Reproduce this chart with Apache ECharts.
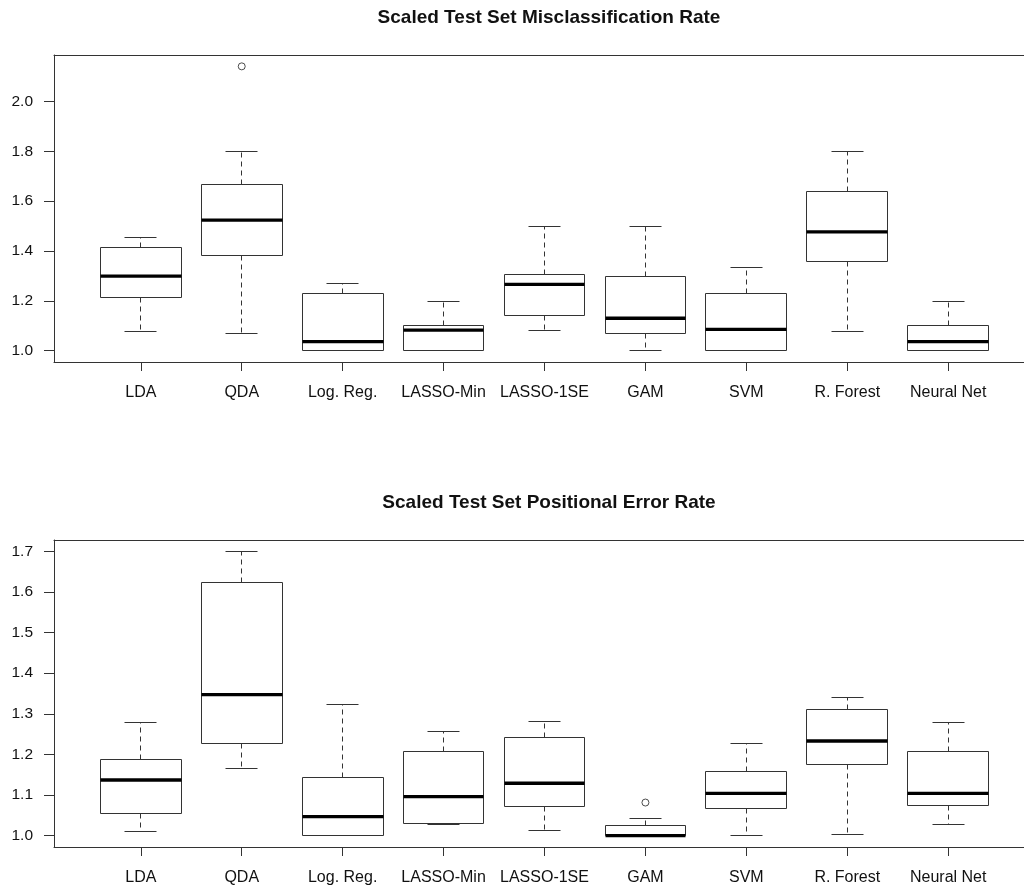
<!DOCTYPE html>
<html>
<head>
<meta charset="utf-8">
<title>Scaled Test Set Error Rates</title>
<script src="https://cdn.jsdelivr.net/npm/echarts@6/dist/echarts.min.js"></script>
<style>
  html, body { margin: 0; padding: 0; background: #fff; }
  #chart { width: 1024px; height: 888px; }
</style>
</head>
<body>
<div id="chart"></div>
<script>
// Classifier names along the x axis
const methods = ['LDA', 'QDA', 'Log. Reg.', 'LASSO-Min', 'LASSO-1SE', 'GAM', 'SVM', 'R. Forest', 'Neural Net'];

// Misclassification rate: five-number summaries per method
const misLow    = [1.077, 1.069, 1.000, 1.000, 1.081, 1.000, 1.000, 1.077, 1.000];
const misQ1     = [1.214, 1.383, 1.000, 1.000, 1.141, 1.067, 1.000, 1.356, 1.000];
const misMedian = [1.299, 1.524, 1.036, 1.082, 1.266, 1.130, 1.085, 1.477, 1.036];
const misQ3     = [1.415, 1.665, 1.229, 1.101, 1.306, 1.298, 1.230, 1.638, 1.101];
const misHigh   = [1.456, 1.800, 1.270, 1.197, 1.500, 1.500, 1.334, 1.800, 1.197];
const misOutliers = [[2, 2.141]];
const misTicks = [1.0, 1.2, 1.4, 1.6, 1.8, 2.0];

// Positional error rate: five-number summaries per method
const posLow    = [1.010, 1.166, 1.000, 1.027, 1.012, 1.000, 1.000, 1.003, 1.027];
const posQ1     = [1.054, 1.228, 1.000, 1.029, 1.072, 1.000, 1.067, 1.175, 1.073];
const posMedian = [1.137, 1.347, 1.047, 1.096, 1.129, 1.000, 1.104, 1.233, 1.104];
const posQ3     = [1.188, 1.624, 1.143, 1.208, 1.242, 1.024, 1.159, 1.311, 1.206];
const posHigh   = [1.278, 1.700, 1.322, 1.257, 1.282, 1.042, 1.228, 1.339, 1.278];
const posOutliers = [[6, 1.0815]];
const posTicks = [1.0, 1.1, 1.2, 1.3, 1.4, 1.5, 1.6, 1.7];

const INK = '#333333';
const TEXT = '#111111';
const FONT = '"Liberation Sans", Arial, Helvetica, sans-serif';

// Plot region: x runs from 0.14 (left frame); the frame continues past the right page edge
const X_MIN = 0.14;
const X_MAX = 9.751;
const GRID_LEFT = 54;
const GRID_WIDTH = 970;

function boxRows(lo, q1, md, q3, hi) {
  return methods.map((_, i) => [i + 1, lo[i], q1[i], md[i], q3[i], hi[i]]);
}

// Value range padded by 4% on each side, as in base R graphics
function paddedRange(arrays, outliers) {
  let all = [];
  arrays.forEach(a => { all = all.concat(a); });
  outliers.forEach(o => all.push(o[1]));
  const lo = Math.min.apply(null, all), hi = Math.max.apply(null, all);
  const pad = (hi - lo) * 0.04;
  return [lo - pad, hi + pad];
}

const crisp = v => Math.round(v - 0.5) + 0.5;

function renderBox(params, api) {
  const x = api.value(0);
  const lo = api.value(1), q1 = api.value(2), md = api.value(3), q3 = api.value(4), hi = api.value(5);
  const pt = (xx, yy) => api.coord([xx, yy]);
  const cx = crisp(pt(x, md)[0]);
  const boxL = crisp(pt(x - 0.4, md)[0]), boxR = crisp(pt(x + 0.4, md)[0]);
  const capL = crisp(pt(x - 0.16, md)[0]), capR = crisp(pt(x + 0.16, md)[0]);
  const yLo = crisp(pt(x, lo)[1]), yQ1 = crisp(pt(x, q1)[1]);
  const yMd = pt(x, md)[1], yQ3 = crisp(pt(x, q3)[1]), yHi = crisp(pt(x, hi)[1]);
  const dashed = { stroke: INK, lineWidth: 1, lineDash: [5, 4], fill: null };
  const solid = { stroke: INK, lineWidth: 1, fill: null };
  const kids = [];
  if (yHi < yQ3) kids.push({ type: 'line', shape: { x1: cx, y1: yQ3, x2: cx, y2: yHi }, style: dashed });
  if (yLo > yQ1) kids.push({ type: 'line', shape: { x1: cx, y1: yQ1, x2: cx, y2: yLo }, style: dashed });
  kids.push({ type: 'line', shape: { x1: capL, y1: yHi, x2: capR, y2: yHi }, style: solid });
  kids.push({ type: 'line', shape: { x1: capL, y1: yLo, x2: capR, y2: yLo }, style: solid });
  kids.push({ type: 'rect', shape: { x: boxL, y: yQ3, width: boxR - boxL, height: yQ1 - yQ3 },
              style: { fill: 'rgba(255,255,255,0)', stroke: INK, lineWidth: 1 } });
  kids.push({ type: 'line', shape: { x1: boxL, y1: yMd, x2: boxR, y2: yMd }, style: { stroke: '#000', lineWidth: 3.3 } });
  return { type: 'group', children: kids };
}

const misRange = paddedRange([misLow, misHigh], misOutliers);
const posRange = paddedRange([posLow, posHigh], posOutliers);

const xCenters = methods.map((_, i) => i + 1);
const frameLine = { show: true, onZero: false, lineStyle: { color: INK, width: 1 } };

function xAxisFor(gridIndex) {
  return {
    type: 'value', gridIndex: gridIndex, position: 'bottom', min: X_MIN, max: X_MAX,
    axisLine: frameLine,
    splitLine: { show: false },
    axisTick: { show: true, inside: false, length: 9, customValues: xCenters, lineStyle: { color: INK, width: 1 } },
    axisLabel: { show: true, margin: 23, customValues: xCenters, color: TEXT, fontSize: 16, fontFamily: FONT,
                 formatter: v => methods[Math.round(v) - 1] || '' }
  };
}

// Top edge of the frame
function xFrameTop(gridIndex) {
  return {
    type: 'value', gridIndex: gridIndex, position: 'top', min: X_MIN, max: X_MAX,
    axisLine: frameLine, axisTick: { show: false }, axisLabel: { show: false }, splitLine: { show: false }
  };
}

function yAxisFor(gridIndex, range, ticks) {
  return {
    type: 'value', gridIndex: gridIndex, min: range[0], max: range[1],
    axisLine: frameLine,
    splitLine: { show: false },
    axisTick: { show: true, inside: false, length: 10, customValues: ticks, lineStyle: { color: INK, width: 1 } },
    axisLabel: { show: true, margin: 21, customValues: ticks, color: TEXT, fontSize: 15.5, fontFamily: FONT,
                 formatter: v => Number(v).toFixed(1) }
  };
}

const option = {
  backgroundColor: '#ffffff',
  animation: false,
  title: [
    { text: 'Scaled Test Set Misclassification Rate', left: 544, top: 3, textAlign: 'center',
      textStyle: { fontSize: 19, fontWeight: 'bold', color: TEXT, fontFamily: FONT } },
    { text: 'Scaled Test Set Positional Error Rate', left: 544, top: 488, textAlign: 'center',
      textStyle: { fontSize: 19, fontWeight: 'bold', color: TEXT, fontFamily: FONT } }
  ],
  grid: [
    { left: GRID_LEFT, top: 55, width: GRID_WIDTH, height: 307, show: false },
    { left: GRID_LEFT, top: 540, width: GRID_WIDTH, height: 307, show: false }
  ],
  xAxis: [xAxisFor(0), xAxisFor(1), xFrameTop(0), xFrameTop(1)],
  yAxis: [yAxisFor(0, misRange, misTicks), yAxisFor(1, posRange, posTicks)],
  series: [
    { type: 'custom', xAxisIndex: 0, yAxisIndex: 0, renderItem: renderBox,
      encode: { x: 0, y: [1, 2, 3, 4, 5] },
      data: boxRows(misLow, misQ1, misMedian, misQ3, misHigh), silent: true },
    { type: 'scatter', xAxisIndex: 0, yAxisIndex: 0, data: misOutliers, symbol: 'circle', symbolSize: 7,
      itemStyle: { color: '#fff', borderColor: '#222', borderWidth: 1 }, silent: true },
    { type: 'custom', xAxisIndex: 1, yAxisIndex: 1, renderItem: renderBox,
      encode: { x: 0, y: [1, 2, 3, 4, 5] },
      data: boxRows(posLow, posQ1, posMedian, posQ3, posHigh), silent: true },
    { type: 'scatter', xAxisIndex: 1, yAxisIndex: 1, data: posOutliers, symbol: 'circle', symbolSize: 7,
      itemStyle: { color: '#fff', borderColor: '#222', borderWidth: 1 }, silent: true }
  ]
};

const chart = echarts.init(document.getElementById('chart'), null, { renderer: 'canvas', width: 1024, height: 888 });
chart.setOption(option);
</script>
</body>
</html>
